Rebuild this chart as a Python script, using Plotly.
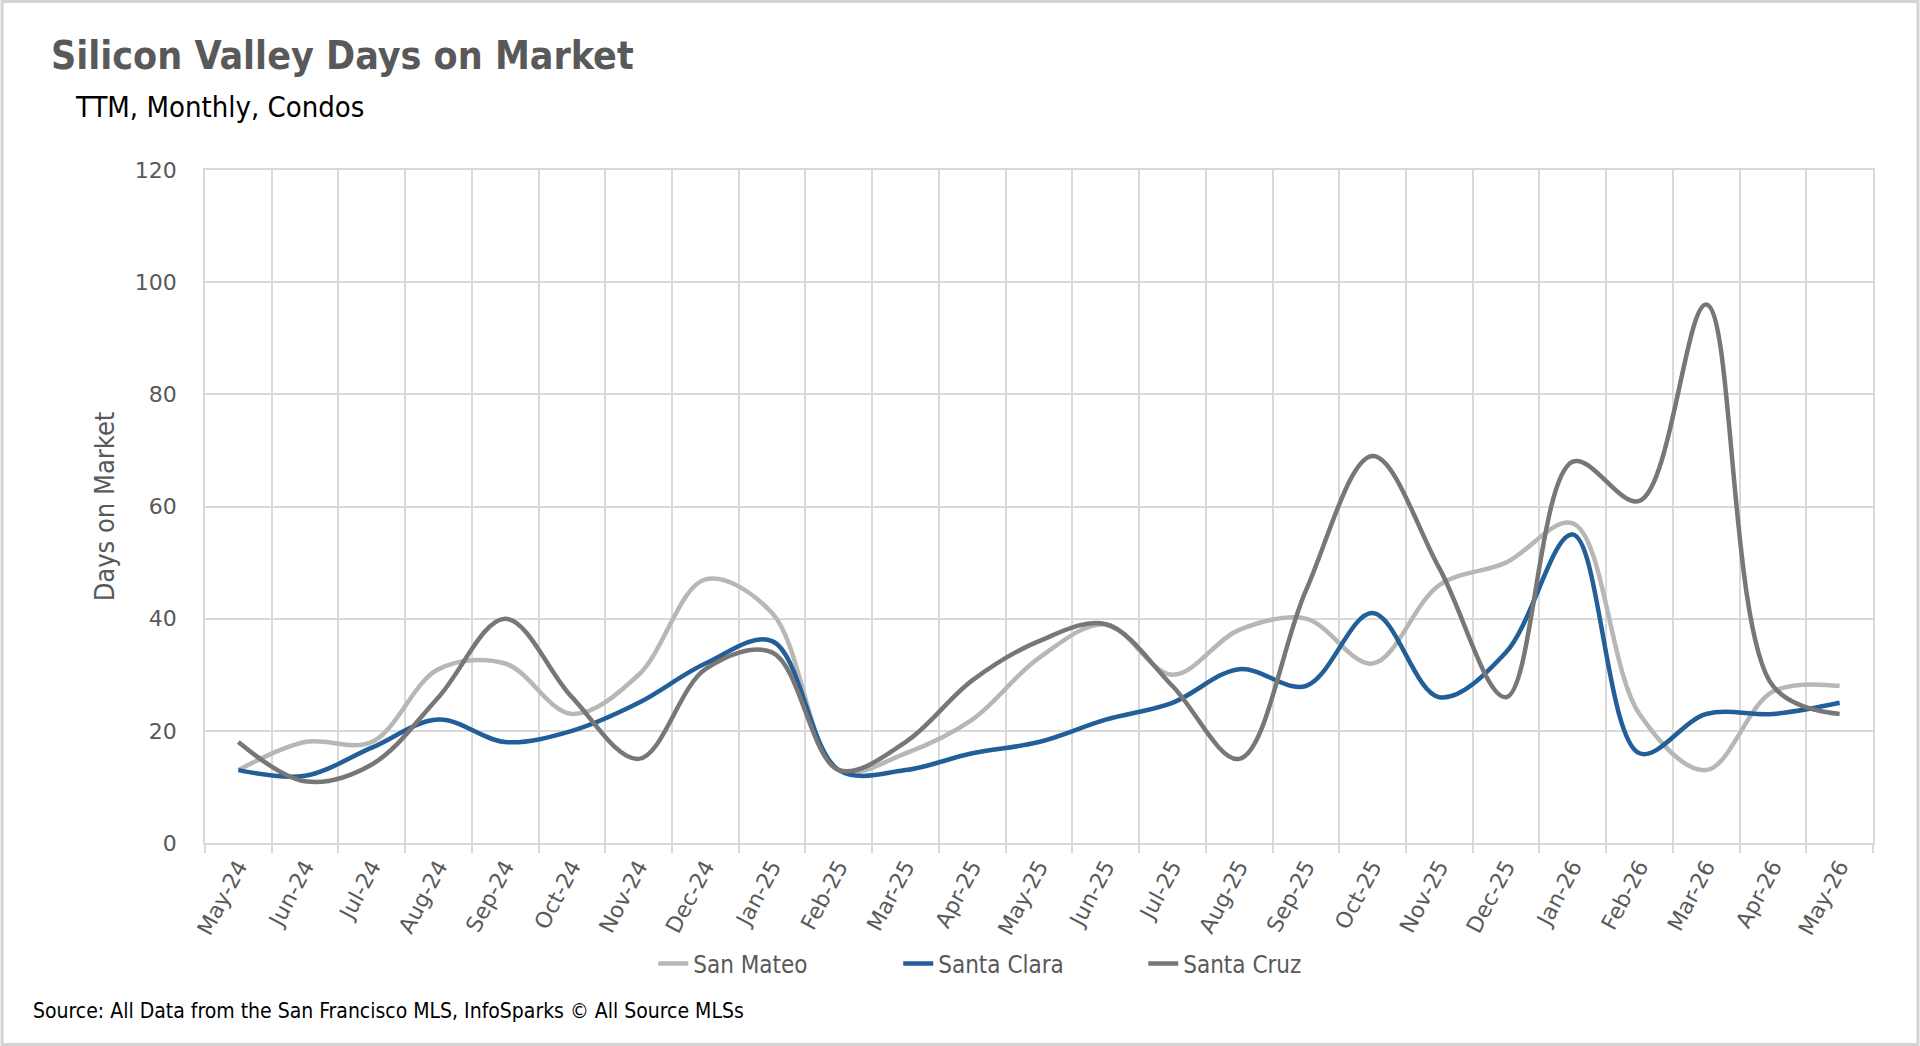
import plotly.graph_objects as go

months = ["May-24", "Jun-24", "Jul-24", "Aug-24", "Sep-24", "Oct-24", "Nov-24", "Dec-24",
          "Jan-25", "Feb-25", "Mar-25", "Apr-25", "May-25", "Jun-25", "Jul-25", "Aug-25",
          "Sep-25", "Oct-25", "Nov-25", "Dec-25", "Jan-26", "Feb-26", "Mar-26", "Apr-26", "May-26"]

san_mateo = [13, 18, 18, 31, 32, 23, 30, 47, 41, 13, 16, 22, 33, 39, 30, 38, 40, 32, 46, 50, 57, 23, 13, 27, 28]
santa_clara = [13, 12, 17, 22, 18, 20, 25, 32, 36, 13, 13, 16, 18, 22, 25, 31, 28, 41, 26, 34, 55, 16, 23, 23, 25]
santa_cruz = [18, 11, 14, 26, 40, 26, 15, 31, 34, 13, 18, 29, 36, 39, 28, 15, 45, 69, 49, 26, 68, 61, 96, 28, 23]

series_names = ["San Mateo", "Santa Clara", "Santa Cruz"]
series_colors = ["#b7b7b7", "#225e98", "#777777"]
y_ticks = [0, 20, 40, 60, 80, 100, 120]

NARROW = "Liberation Sans Narrow, Arial Narrow, DejaVu Sans Condensed, sans-serif"
TICKFONT = "DejaVu Sans, Verdana, sans-serif"
GRID = "#d9d9d9"

fig = go.Figure()
for name, vals, col in zip(series_names, [san_mateo, santa_clara, santa_cruz], series_colors):
    fig.add_trace(go.Scatter(
        x=months, y=vals, name=name, mode="lines",
        line=dict(color=col, width=4.5, shape="spline", smoothing=1.0),
    ))

L, R, T, B = 204.5, 46.5, 170, 203
PW, PH = 1920 - L - R, 1046 - T - B

def px(x):
    return (x - L) / PW

def py(y):
    return (1046 - B - y) / PH

fig.update_layout(
    width=1920, height=1046,
    margin=dict(l=L, r=R, t=T, b=B, autoexpand=False),
    paper_bgcolor="white", plot_bgcolor="white",
    title=dict(
        text="<b>Silicon Valley Days on Market</b>",
        font=dict(family=NARROW, size=39, color="#595959"),
        x=51 / 1920, xanchor="left", xref="container",
        y=1 - 55 / 1046, yanchor="middle", yref="container",
    ),
    showlegend=True,
    legend=dict(
        orientation="h", x=px(653), xanchor="left", y=py(964), yanchor="middle",
        font=dict(family=NARROW, size=24, color="#595959"),
        entrywidth=200, entrywidthmode="pixels",
        bgcolor="rgba(0,0,0,0)",
    ),
    xaxis=dict(
        type="category", categoryorder="array", categoryarray=months,
        range=[-0.5, len(months) - 0.5],
        tickson="boundaries", ticks="outside", ticklen=8, tickcolor=GRID, tickwidth=1.5,
        showgrid=True, gridcolor=GRID, gridwidth=1.5,
        showline=True, linecolor=GRID, linewidth=2, mirror=True,
        tickangle=-62,
        tickfont=dict(family=TICKFONT, size=22, color="#595959"),
    ),
    yaxis=dict(
        range=[0, 120], tickvals=y_ticks, ticktext=[str(v) for v in y_ticks],
        showgrid=True, gridcolor=GRID, gridwidth=1.5, zeroline=False,
        showline=True, linecolor=GRID, linewidth=1.5, mirror=True,
        ticks="outside", ticklen=22, tickcolor="rgba(0,0,0,0)",
        tickfont=dict(family=TICKFONT, size=22, color="#595959"),
        title=dict(text="Days on Market", standoff=12,
                   font=dict(family=NARROW, size=27, color="#595959")),
    ),
    annotations=[
        dict(text="TTM, Monthly, Condos", xref="paper", yref="paper",
             x=px(72), y=py(107), xanchor="left", yanchor="middle", showarrow=False,
             font=dict(family=NARROW, size=29, color="#000000")),
        dict(text="Source: All Data from the San Francisco MLS, InfoSparks © All Source MLSs",
             xref="paper", yref="paper", x=px(30), y=py(1011), xanchor="left", yanchor="middle",
             showarrow=False, font=dict(family=NARROW, size=21, color="#000000")),
    ],
    shapes=[
        dict(type="rect", xref="paper", yref="paper",
             x0=px(1.5), x1=px(1918.5), y0=py(1044.5), y1=py(1.5),
             line=dict(color="#d4d4d4", width=3), layer="below"),
    ],
)

fig.write_html("out.html")
